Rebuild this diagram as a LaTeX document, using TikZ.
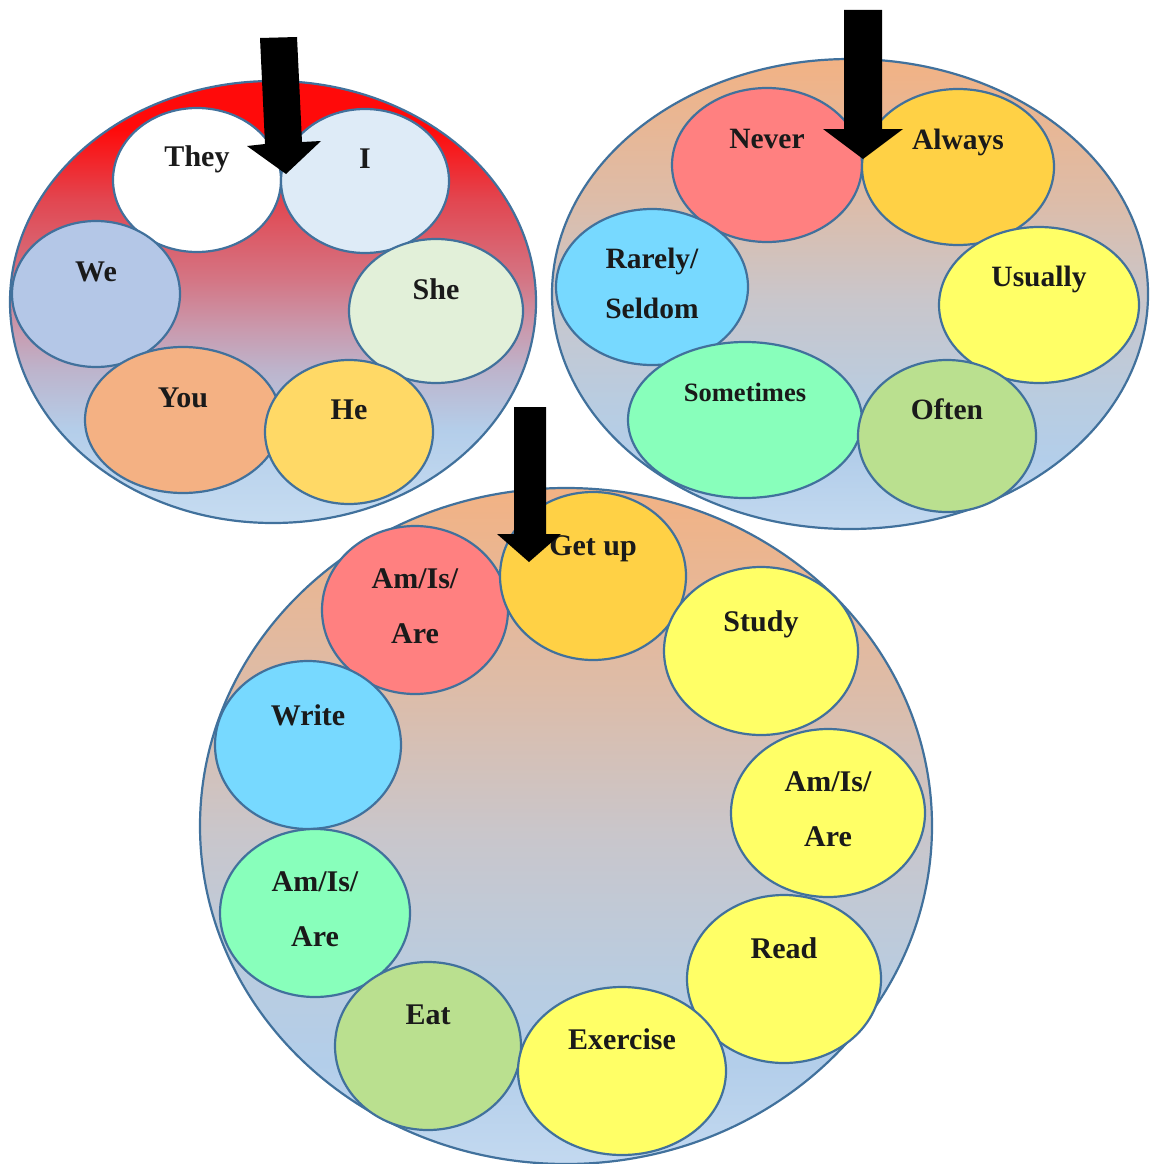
\documentclass[tikz,border=0pt]{standalone}
\usepackage{fontspec}
\setmainfont{Liberation Serif}
\usetikzlibrary{shapes.geometric}
\definecolor{edgeblue}{HTML}{41719C}
\definecolor{inkblack}{HTML}{1A1A1A}
\definecolor{paleblue}{HTML}{DEEBF7}
\definecolor{softblue}{HTML}{B4C7E7}
\definecolor{palegreen}{HTML}{E2F0D9}
\definecolor{peach}{HTML}{F4B183}
\definecolor{gold}{HTML}{FFD966}
\definecolor{salmon}{HTML}{FF8080}
\definecolor{amber}{HTML}{FFD145}
\definecolor{skyblue}{HTML}{77D9FF}
\definecolor{lemon}{HTML}{FFFF66}
\definecolor{mint}{HTML}{88FFBB}
\definecolor{leaf}{HTML}{BAE08F}
% stops of the two background fades
\definecolor{rbot}{HTML}{C6DCF1}
\definecolor{rblue}{HTML}{B4CEEA}
\definecolor{rlilac}{HTML}{BDB4CC}
\definecolor{rmauve}{HTML}{C99AAE}
\definecolor{rpink}{HTML}{D47584}
\definecolor{rdeep}{HTML}{E24650}
\definecolor{rred}{HTML}{FF0A0A}
\definecolor{pbot}{HTML}{C3D9F0}
\definecolor{pblue}{HTML}{B3CEEA}
\definecolor{pgrayblue}{HTML}{B9CCE0}
\definecolor{pgray}{HTML}{C9C6CB}
\definecolor{ptan}{HTML}{DDBCA8}
\definecolor{ptop}{HTML}{F2B284}
\pgfdeclareverticalshading{redfade}{100bp}{color(0bp)=(rbot); color(25bp)=(rbot); color(35.5bp)=(rblue); color(42.3bp)=(rlilac); color(46.9bp)=(rmauve); color(52.6bp)=(rpink); color(61.6bp)=(rdeep); color(69.6bp)=(rred); color(100bp)=(rred)}
\pgfdeclareverticalshading{peachfade}{100bp}{color(0bp)=(pbot); color(25bp)=(pbot); color(32.4bp)=(pblue); color(38.8bp)=(pgrayblue); color(49.4bp)=(pgray); color(60.1bp)=(ptan); color(75bp)=(ptop); color(100bp)=(ptop)}
\tikzset{
    bigdisc/.style={ellipse, draw=edgeblue, line width=2.2pt, inner sep=0pt, shade},
    bubble/.style={ellipse, draw=edgeblue, line width=2.2pt, inner sep=0pt},
    word/.style={font=\bfseries\fontsize{30}{55}\selectfont, text=inkblack, align=center, yshift=#1},
    smallword/.style={font=\bfseries\fontsize{29.5}{50}\selectfont, text=inkblack, align=center, yshift=#1},
    blockarrow/.style={fill=black}
}
\begin{document}
\begin{tikzpicture}[x=1pt, y=-1pt]
    \useasboundingbox (0,0) rectangle (1150,1164);
    % pronouns
    \node[bigdisc, shading=redfade, minimum width=526pt, minimum height=442pt] (pronouns) at (273,302) {};
    \node[bubble, fill=white, minimum width=168pt, minimum height=144pt, label={[word=21pt]center:They}] (they) at (197,180) {};
    \node[bubble, fill=paleblue, minimum width=168pt, minimum height=144pt, label={[word=22pt]center:I}] (i) at (365,181) {};
    \node[bubble, fill=softblue, minimum width=168pt, minimum height=146pt, label={[word=22pt]center:We}] (we) at (96,294) {};
    \node[bubble, fill=palegreen, minimum width=174pt, minimum height=144pt, label={[word=22pt]center:She}] (she) at (436,311) {};
    \node[bubble, fill=peach, minimum width=196pt, minimum height=146pt, label={[word=22pt]center:You}] (you) at (183,420) {};
    \node[bubble, fill=gold, minimum width=168pt, minimum height=144pt, label={[word=22pt]center:He}] (he) at (349,432) {};
    % frequency words
    \node[bigdisc, shading=peachfade, minimum width=596pt, minimum height=470pt] (freq) at (850,294) {};
    \node[bubble, fill=salmon, minimum width=190pt, minimum height=154pt, label={[smallword=26pt]center:Never}] (never) at (767,165) {};
    \node[bubble, fill=amber, minimum width=192pt, minimum height=156pt, label={[smallword=25pt]center:Always}] (always) at (958,167) {};
    \node[bubble, fill=skyblue, minimum width=192pt, minimum height=156pt, label={[smallword=4pt]center:{Rarely/\\Seldom}}] (rarely) at (652,287) {};
    \node[bubble, fill=lemon, minimum width=200pt, minimum height=156pt, label={[smallword=26pt]center:Usually}] (usually) at (1039,305) {};
    \node[bubble, fill=mint, minimum width=234pt, minimum height=156pt, label={[smallword=28pt, font=\bfseries\fontsize{26.5}{30}\selectfont]center:Sometimes}] (sometimes) at (745,420) {};
    \node[bubble, fill=leaf, minimum width=178pt, minimum height=152pt, label={[smallword=27pt]center:Often}] (often) at (947,436) {};
    % daily verbs
    \node[bigdisc, shading=peachfade, minimum width=732pt, minimum height=676pt] (verbs) at (566,826) {};
    \node[bubble, fill=salmon, minimum width=186pt, minimum height=168pt, label={[word=3.5pt]center:{Am/Is/\\Are}}] (amred) at (415,610) {};
    \node[bubble, fill=amber, minimum width=186pt, minimum height=168pt, label={[word=27pt]center:Get up}] (getup) at (593,576) {};
    \node[bubble, fill=lemon, minimum width=194pt, minimum height=168pt, label={[word=27pt]center:Study}] (study) at (761,651) {};
    \node[bubble, fill=skyblue, minimum width=186pt, minimum height=168pt, label={[word=30pt]center:Write}] (write) at (308,745) {};
    \node[bubble, fill=lemon, minimum width=194pt, minimum height=168pt, label={[word=3.5pt]center:{Am/Is/\\Are}}] (amyellow) at (828,813) {};
    \node[bubble, fill=mint, minimum width=190pt, minimum height=168pt, label={[word=3.5pt]center:{Am/Is/\\Are}}] (amgreen) at (315,913) {};
    \node[bubble, fill=lemon, minimum width=194pt, minimum height=168pt, label={[word=31pt]center:Read}] (read) at (784,979) {};
    \node[bubble, fill=leaf, minimum width=186pt, minimum height=168pt, label={[word=31pt]center:Eat}] (eat) at (428,1046) {};
    \node[bubble, fill=lemon, minimum width=208pt, minimum height=168pt, label={[word=32pt]center:Exercise}] (exercise) at (622,1071) {};
    % pointers
    \fill[blockarrow] (260,38) -- (297,37) -- (302,142) -- (321,141) -- (286,174) -- (247,146) -- (265,144) -- cycle;
    \fill[blockarrow] (844,10) -- (882,10) -- (882,129) -- (903,129) -- (863,159) -- (823,129) -- (844,129) -- cycle;
    \fill[blockarrow] (514,407) -- (546,407) -- (546,534) -- (561,534) -- (529,562) -- (497,534) -- (514,534) -- cycle;
\end{tikzpicture}
\end{document}
